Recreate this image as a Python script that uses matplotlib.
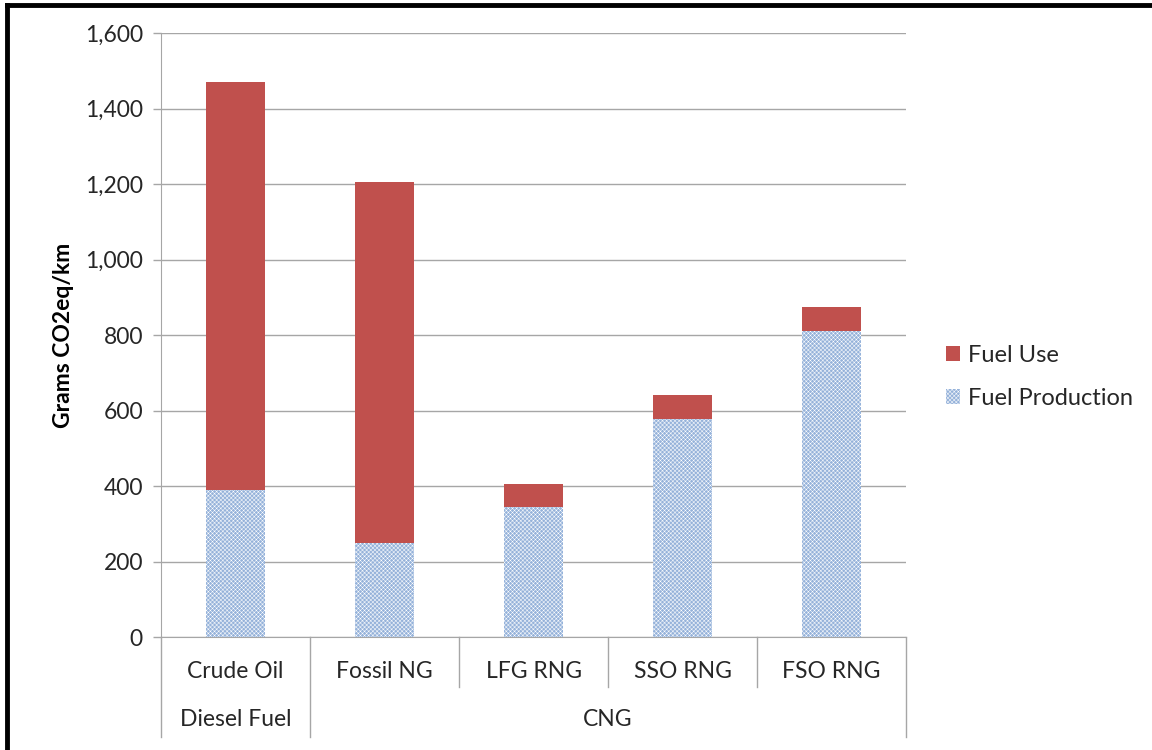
import matplotlib
matplotlib.use("Agg")
import matplotlib.pyplot as plt
from matplotlib.lines import Line2D
from matplotlib.patches import Patch
import matplotlib.ticker as mticker

# data
categories = ["Crude Oil", "Fossil NG", "LFG RNG", "SSO RNG", "FSO RNG"]
groups = ["Diesel Fuel", "CNG"]
group_sizes = [1, 4]
fuel_production = [390, 250, 345, 577, 810]
fuel_use = [1080, 955, 60, 63, 64]

RED = "#c0504d"
BLUE = "#95b2da"
GRID = "#a6a6a6"
TXT = "#262626"

plt.rcParams["font.family"] = ["Lato", "DejaVu Sans"]
plt.rcParams["hatch.linewidth"] = 0.35

fig = plt.figure(figsize=(11.52, 7.5), dpi=100)
ax = fig.add_axes([161 / 1152, 1 - 637 / 750, 745 / 1152, 604 / 750])

x = list(range(len(categories)))
ax.bar(x, fuel_production, width=0.4, color=BLUE, edgecolor="white",
       linewidth=0, hatch="xxxxxxxx", zorder=3)
ax.bar(x, fuel_use, width=0.4, bottom=fuel_production, color=RED,
       linewidth=0, zorder=3)

ax.set_xlim(-0.5, len(categories) - 0.5)
ax.set_ylim(0, 1600)
ax.yaxis.set_major_locator(mticker.MultipleLocator(200))
ax.yaxis.set_major_formatter(mticker.StrMethodFormatter("{x:,.0f}"))
ax.grid(axis="y", color=GRID, linewidth=1, zorder=0)
ax.tick_params(axis="y", labelsize=16.5, labelcolor=TXT, length=6,
               width=1, direction="out", pad=7, color=GRID)
ax.set_xticks([])

for s in ["top", "right"]:
    ax.spines[s].set_visible(False)
ax.spines["left"].set_color(GRID)
ax.spines["bottom"].set_color(GRID)

ax.set_ylabel("Grams CO2eq/km", fontsize=16.5, fontweight="bold",
              labelpad=8, color="black")

# two level category axis
tr = ax.get_xaxis_transform()
inner_y = -50 / 604
outer_y = -100 / 604
bounds = [-0.5]
pos = -0.5
for n in group_sizes:
    pos += n
    bounds.append(pos)
for b in [i - 0.5 for i in range(len(categories) + 1)]:
    low = outer_y if b in bounds else inner_y
    ax.plot([b, b], [0, low], transform=tr, color=GRID, lw=1,
            clip_on=False)
for i, c in enumerate(categories):
    ax.text(i, -35 / 604, c, transform=tr, ha="center", va="center",
            fontsize=16.5, color=TXT)
start = 0
for g, n in zip(groups, group_sizes):
    ax.text(start + (n - 1) / 2, -83 / 604, g, transform=tr,
            ha="center", va="center", fontsize=16.5, color=TXT)
    start += n

handles = [Patch(facecolor=RED, edgecolor=RED, linewidth=0),
           Patch(facecolor=BLUE, edgecolor="white", linewidth=0,
                 hatch="xxxxxxxx")]
fig.legend(handles, ["Fuel Use", "Fuel Production"], loc="center left",
           bbox_to_anchor=(925 / 1152, 1 - 377 / 750), frameon=False,
           fontsize=17, handlelength=0.6, handleheight=0.6,
           handletextpad=0.3, labelspacing=0.95, labelcolor=TXT)

# outer frame (only top and left are visible)
fig.add_artist(Line2D([7 / 1152, 7 / 1152], [0, 1 - 5 / 750],
                      transform=fig.transFigure, color="black", lw=3.5))
fig.add_artist(Line2D([7 / 1152, 1], [1 - 5 / 750, 1 - 5 / 750],
                      transform=fig.transFigure, color="black", lw=3.5))

fig.savefig("out.png", dpi=100)
